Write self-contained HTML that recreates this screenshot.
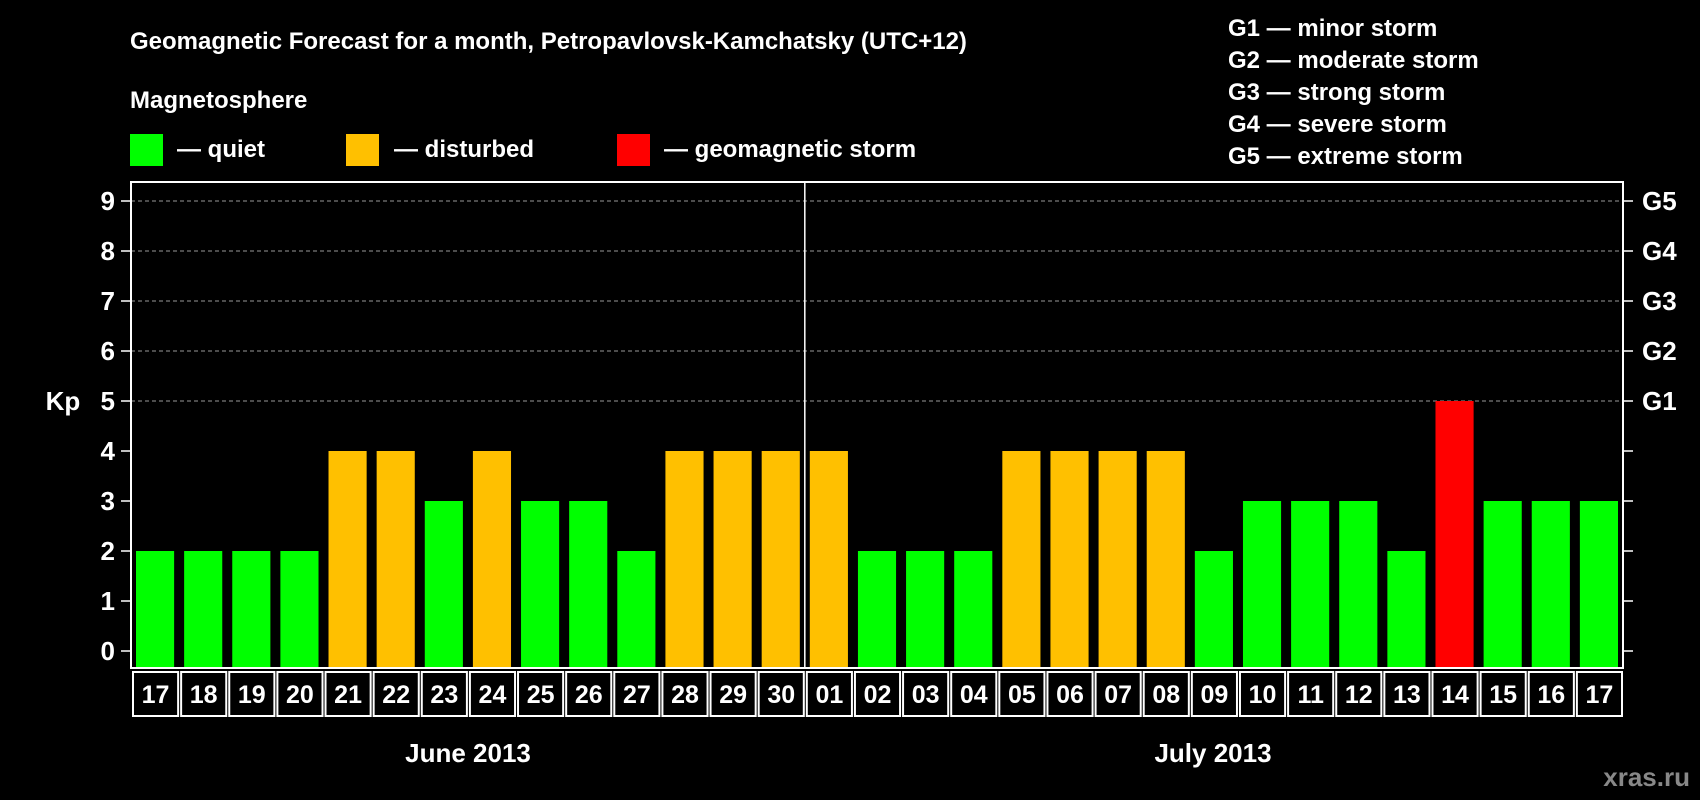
<!DOCTYPE html>
<html><head><meta charset="utf-8"><style>
body{margin:0;background:#000;width:1700px;height:800px;overflow:hidden}
svg{display:block;font-family:"Liberation Sans",sans-serif;font-weight:bold}
</style></head><body>
<svg id="chart" width="1700" height="800">
<text x="130" y="49" fill="#fff" font-size="24">Geomagnetic Forecast for a month, Petropavlovsk-Kamchatsky (UTC+12)</text>
<text x="130" y="108" fill="#fff" font-size="24">Magnetosphere</text>
<g><rect x="130" y="134" width="33" height="32" fill="#00ff00"/><text x="177" y="157" fill="#fff" font-size="24">— quiet</text></g>
<g><rect x="346" y="134" width="33" height="32" fill="#ffc000"/><text x="394" y="157" fill="#fff" font-size="24">— disturbed</text></g>
<g><rect x="617" y="134" width="33" height="32" fill="#ff0000"/><text x="664" y="157" fill="#fff" font-size="24">— geomagnetic storm</text></g>
<g fill="#fff" font-size="24">
<text x="1228" y="36">G1 — minor storm</text>
<text x="1228" y="68">G2 — moderate storm</text>
<text x="1228" y="100">G3 — strong storm</text>
<text x="1228" y="132">G4 — severe storm</text>
<text x="1228" y="164">G5 — extreme storm</text>
</g>
<text x="63" y="410" fill="#fff" font-size="26" text-anchor="middle">Kp</text>
<text x="468" y="762" fill="#fff" font-size="26" text-anchor="middle">June 2013</text>
<text x="1213" y="762" fill="#fff" font-size="26" text-anchor="middle">July 2013</text>
<text x="1690" y="786" fill="#888" font-size="26" text-anchor="end">xras.ru</text>
<g id="plot"></g>
</svg>
<script>
const days=["17","18","19","20","21","22","23","24","25","26","27","28","29","30","01","02","03","04","05","06","07","08","09","10","11","12","13","14","15","16","17"];
const kp=[2,2,2,2,4,4,3,4,3,3,2,4,4,4,4,2,2,2,4,4,4,4,2,3,3,3,2,5,3,3,3];
const yTicks=[0,1,2,3,4,5,6,7,8,9];
const gLabels=["G1","G2","G3","G4","G5"];
const gLevels=[5,6,7,8,9];
const monthSplit=14;
const NS="http://www.w3.org/2000/svg";
const plot=document.getElementById('plot');
const L=131,R=1623,T=182,B=668,Y0=651,UNIT=50;
const pitch=(R-L)/days.length;
const y=v=>Y0-v*UNIT;
const x=i=>L+i*pitch;
function mk(tag,attrs){const e=document.createElementNS(NS,tag);for(const k in attrs)e.setAttribute(k,attrs[k]);plot.appendChild(e);return e;}
// grid
gLevels.forEach(v=>{
 const g=mk('line',{x1:L,x2:R,y1:y(v),y2:y(v),stroke:'#999','stroke-dasharray':'4,3','stroke-width':1});
 
 
});
// bars
kp.forEach((v,i)=>{
 const col=v>=5?'#ff0000':(v>=4?'#ffc000':'#00ff00');
 const r=mk('rect',{x:x(i)+5,y:y(v),width:pitch-10,height:B-y(v),fill:col});
 
 
});
// frame
const f=mk('rect',{x:L,y:T,width:R-L,height:B-T,fill:'none',stroke:'#fff','stroke-width':2});


const ml=mk('line',{x1:x(monthSplit),x2:x(monthSplit),y1:T,y2:B,stroke:'#fff','stroke-width':1.5});


// y ticks
yTicks.forEach(v=>{
 mk('line',{x1:L-10,x2:L,y1:y(v),y2:y(v),stroke:'#fff','stroke-width':1.5});
 mk('line',{x1:R,x2:R+10,y1:y(v),y2:y(v),stroke:'#fff','stroke-width':1.5});
 const t=mk('text',{x:115,y:y(v)+9,fill:'#fff','font-size':26,'text-anchor':'end'});
 t.textContent=v;
 
 
});
gLabels.forEach((g,i)=>{
 const t=mk('text',{x:1642,y:y(gLevels[i])+9,fill:'#fff','font-size':26});
 t.textContent=g;
 
 
});
// day label boxes
days.forEach((d,i)=>{
 const r=mk('rect',{x:x(i)+2,y:672,width:pitch-3,height:44,fill:'none',stroke:'#fff','stroke-width':2});
 
 
 const t=mk('text',{x:x(i)+pitch/2+0.5,y:703,fill:'#fff','font-size':25,'text-anchor':'middle'});
 t.textContent=d;
 
 
});
</script>
</body></html>
